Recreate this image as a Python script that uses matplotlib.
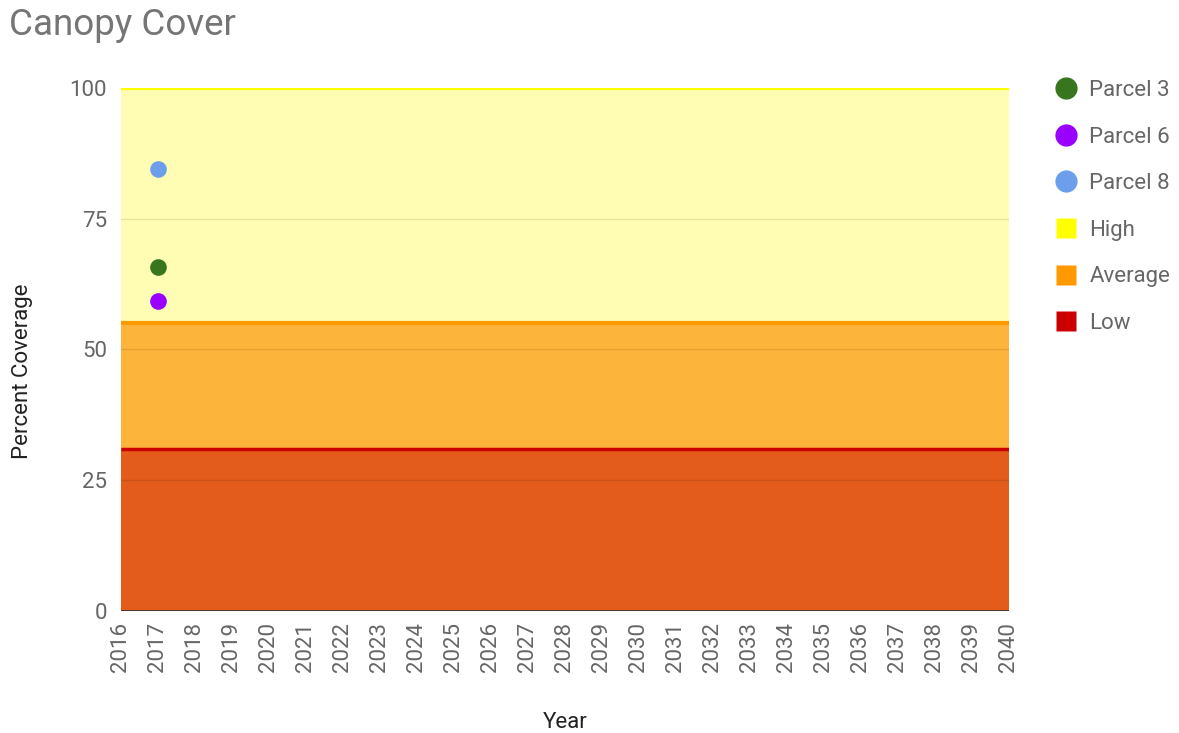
import matplotlib
matplotlib.use('Agg')
import matplotlib.pyplot as plt
from matplotlib.lines import Line2D

plt.rcParams['font.family'] = ['Roboto', 'DejaVu Sans']

years = list(range(2016, 2041))

# threshold bands (percent canopy cover)
low_top = 31
avg_top = 55
high_top = 100

# measured parcels
parcel_year = 2017
parcel_names = ['Parcel 3', 'Parcel 6', 'Parcel 8']
parcel_values = [65.8, 59.2, 84.5]
parcel_colors = ['#38761d', '#9900ff', '#6d9eeb']

fig = plt.figure(figsize=(11.79, 7.33), dpi=100)
ax = fig.add_axes([0.1026, 0.1664, 0.7532, 0.7136])

x0, x1 = years[0], years[-1]
ax.fill_between([x0, x1], avg_top, high_top, color='#fefdb3', lw=0, zorder=1)
ax.fill_between([x0, x1], low_top, avg_top, color='#fdb43a', lw=0, zorder=1)
ax.fill_between([x0, x1], 0, low_top, color='#e35c1b', lw=0, zorder=1)
ax.plot([x0, x1], [high_top, high_top], color='#ffff00', lw=3, zorder=3, solid_capstyle='butt')
ax.plot([x0, x1], [avg_top, avg_top], color='#ff9900', lw=3, zorder=3, solid_capstyle='butt')
ax.plot([x0, x1], [low_top, low_top], color='#cc0000', lw=2.5, zorder=3, solid_capstyle='butt')

for v in [25, 50, 75]:
    ax.axhline(v, color='#000000', alpha=0.1, lw=1, zorder=2)
ax.axhline(0, color='#333333', lw=1.2, zorder=4)

for name, val, c in zip(parcel_names, parcel_values, parcel_colors):
    ax.plot([parcel_year], [val], 'o', color=c, ms=12, mec='none', zorder=5)

ax.set_xlim(x0, x1)
ax.set_ylim(0, 100)
ax.set_yticks([0, 25, 50, 75, 100])
ax.set_xticks(years)
ax.set_xticklabels([str(y) for y in years], rotation=90)
ax.tick_params(length=0, labelsize=16, labelcolor='#666666')
ax.tick_params(axis='y', pad=10)
ax.tick_params(axis='x', pad=8)
for s in ax.spines.values():
    s.set_visible(False)

fig.text(0.008, 0.966, 'Canopy Cover', fontsize=26.5, color='#757575', va='center', ha='left')
fig.text(0.479, 0.014, 'Year', fontsize=16, color='#222222', ha='center', va='center')
fig.text(0.019, 0.493, 'Percent Coverage', fontsize=16, color='#222222', rotation=90, ha='center', va='center')

handles = [Line2D([], [], marker='o', ls='none', color=c, ms=16, mec='none') for c in parcel_colors]
handles += [Line2D([], [], marker='s', ls='none', color=c, ms=15, mec='none')
            for c in ['#ffff00', '#ff9900', '#cc0000']]
labels = parcel_names + ['High', 'Average', 'Low']
fig.legend(handles, labels, loc='upper left', bbox_to_anchor=(0.876, 0.918), frameon=False,
           fontsize=16, labelcolor='#666666', labelspacing=1.15, handletextpad=0.45, handlelength=1.2)

fig.savefig('out.png', dpi=100)
